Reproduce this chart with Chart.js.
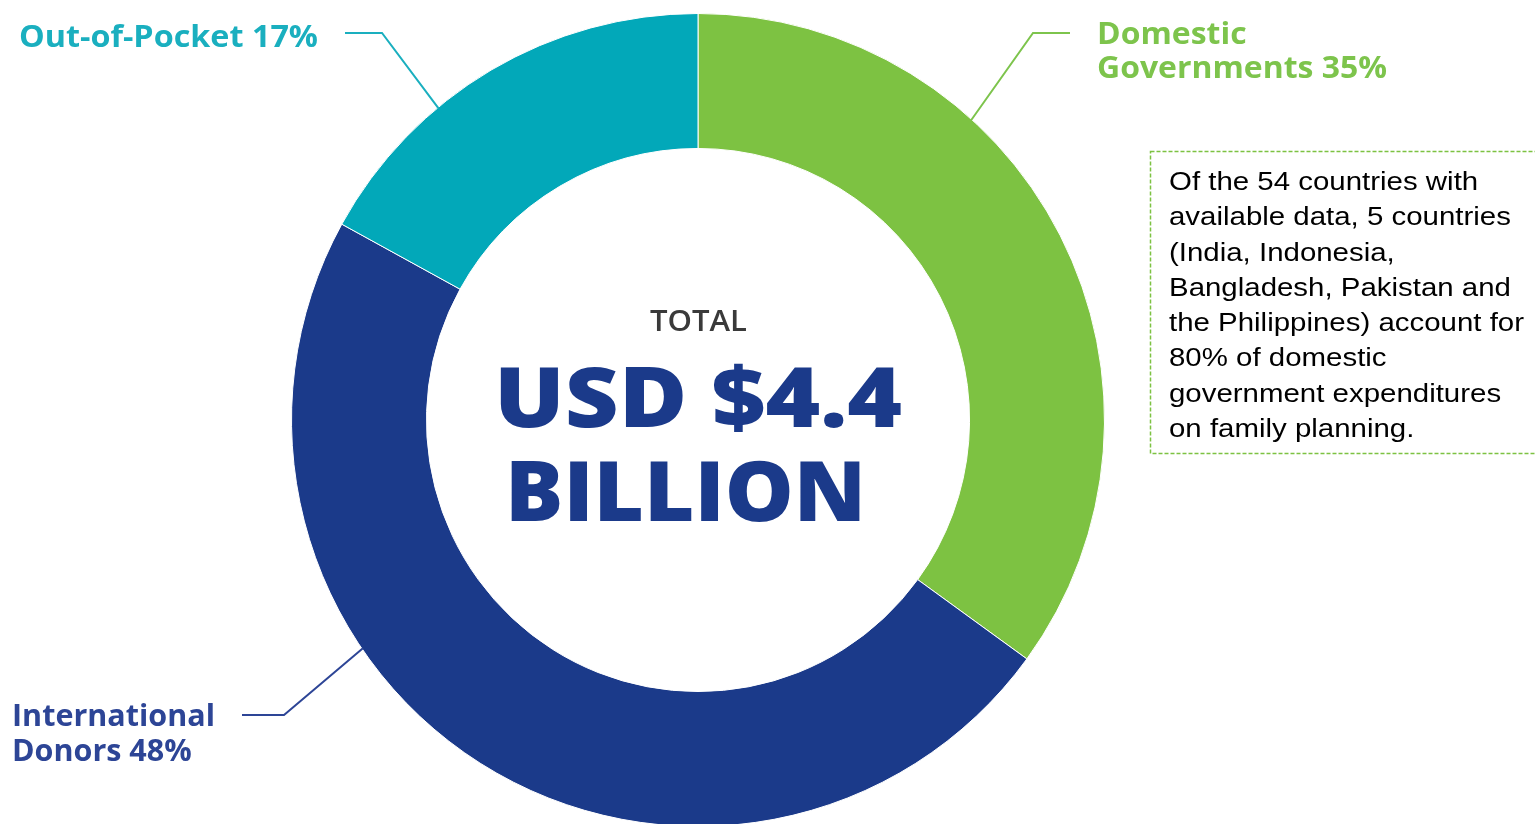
<!DOCTYPE html>
<html><head><meta charset="utf-8">
<script src="https://cdn.jsdelivr.net/npm/chart.js@4/dist/chart.umd.min.js"></script>
<style>
html,body{margin:0;padding:0;background:#fff;overflow:hidden;width:1535px;height:824px}
#wrap{position:relative;width:1535px;height:824px;overflow:hidden}
#c{position:absolute;left:0;top:0}
.t{position:absolute;white-space:nowrap;line-height:1;transform-origin:0 0;margin:0;padding:0}
svg{position:absolute;left:0;top:0}
</style></head>
<body>
<div id="wrap">
<canvas id="c" width="1535" height="840"></canvas>
<svg width="1535" height="824"><rect x="1150.5" y="151.5" width="500" height="302" fill="none" stroke="#7DC242" stroke-width="1.5" stroke-dasharray="4 2"/></svg>
</div>
<script>
// ---- data ----
const categories = ["Domestic Governments", "International Donors", "Out-of-Pocket"];
const shares = [35, 48, 17];
const labelLines = [["Domestic", "Governments"], ["International", "Donors"], ["Out-of-Pocket"]];
const segmentColors = ["#7DC242", "#1B3A8A", "#02A8B9"];
const labelColors = ["#7DC44C", "#2D4596", "#1AAFBF"];
const centerTitle = "TOTAL";
const centerValue = ["USD $4.4", "BILLION"];
const noteLines = ["Of the 54 countries with", "available data, 5 countries", "(India, Indonesia,",
  "Bangladesh, Pakistan and", "the Philippines) account for", "80% of domestic",
  "government expenditures", "on family planning."];

// leader line layout: fraction along arc, elbow point, end point
const leaders = [
  {frac: 0.336, elbow: [1033, 33], end: [1070, 33]},
  {frac: 0.635, elbow: [284, 715], end: [242, 715]},
  {frac: 0.35, elbow: [382, 33], end: [345, 33]}
];

const leaderPlugin = {
  id: 'leaders',
  afterDraw(chart) {
    const ctx = chart.ctx;
    const meta = chart.getDatasetMeta(0);
    meta.data.forEach((arc, i) => {
      const p = arc.getProps(['x', 'y', 'startAngle', 'endAngle', 'outerRadius'], true);
      const L = leaders[i];
      const a = p.startAngle + L.frac * (p.endAngle - p.startAngle);
      const r = p.outerRadius - 1;
      ctx.save();
      ctx.strokeStyle = labelColors[i];
      ctx.lineWidth = 2;
      ctx.beginPath();
      ctx.moveTo(p.x + Math.cos(a) * r, p.y + Math.sin(a) * r);
      ctx.lineTo(L.elbow[0], L.elbow[1]);
      ctx.lineTo(L.end[0], L.end[1]);
      ctx.stroke();
      ctx.restore();
    });
  }
};

new Chart(document.getElementById('c'), {
  type: 'doughnut',
  data: {
    labels: categories,
    datasets: [{data: shares, backgroundColor: segmentColors, borderColor: '#ffffff', borderWidth: 1, hoverOffset: 0}]
  },
  options: {
    responsive: false,
    animation: false,
    cutout: '66.8%',
    layout: {padding: {left: 291, right: 430, top: 13, bottom: 13}},
    plugins: {legend: {display: false}, tooltip: {enabled: false}}
  },
  plugins: [leaderPlugin]
});

// ---- text blocks ----
const wrap = document.getElementById('wrap');
const blocks = [];
function block(lines, left, base, gap, font, color, targetW) {
  const els = lines.map((s) => {
    const d = document.createElement('div');
    d.className = 't';
    d.textContent = s;
    d.style.font = font;
    d.style.color = color;
    wrap.appendChild(d);
    return d;
  });
  blocks.push({els, left, base, gap, targetW});
}
function layout() {
  blocks.forEach(b => {
    let maxW = 0;
    b.els.forEach((d, i) => {
      d.style.transform = 'none';
      d.style.left = b.left + 'px';
      d.style.top = '0px';
      const m = document.createElement('span');
      m.style.cssText = 'display:inline-block;width:0;height:0;vertical-align:baseline';
      d.appendChild(m);
      const off = m.offsetTop;
      d.removeChild(m);
      d.style.top = (b.base + i * b.gap - off) + 'px';
      maxW = Math.max(maxW, d.getBoundingClientRect().width);
    });
    const s = b.targetW / maxW;
    b.els.forEach(d => d.style.transform = 'scaleX(' + s + ')');
  });
}
const lblFont = '700 30px "Open Sans"';
const lbl = (i) => labelLines[i].map((w, k, arr) => k === arr.length - 1 ? w + ' ' + shares[i] + '%' : w);
block(lbl(0), 1097, 43.5, 34.3, lblFont, labelColors[0], 290);
block(lbl(1), 12, 726, 34.5, lblFont, labelColors[1], 203);
block(lbl(2), 19, 47, 0, lblFont, labelColors[2], 299);
block([centerTitle], 650, 331, 0, '600 28px "Open Sans"', '#3A3A3A', 97);
block([centerValue[0]], 494, 427, 0, '800 84px "Open Sans"', '#1B3A8A', 408);
block([centerValue[1]], 505, 520.5, 0, '800 84px "Open Sans"', '#1B3A8A', 361);
block(noteLines, 1169, 190, 35.25, '400 26px "Liberation Sans", Arial, sans-serif', '#000000', 355);
layout();
if (document.fonts && document.fonts.ready) document.fonts.ready.then(layout);
</script>
</body></html>
